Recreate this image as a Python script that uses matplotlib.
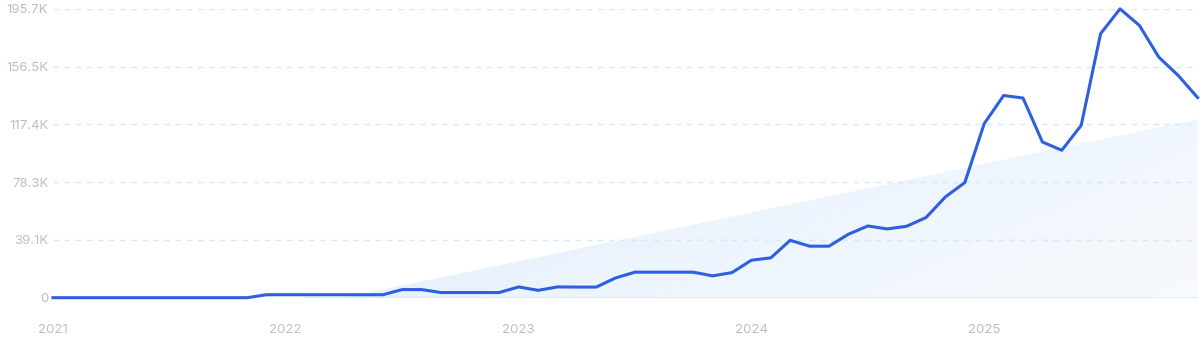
import numpy as np
import matplotlib
matplotlib.use('Agg')
import matplotlib.pyplot as plt
from matplotlib.patches import Polygon

# monthly search volume (thousands), Jan 2021 - Dec 2025
volume = [0, 0, 0, 0, 0, 0, 0, 0, 0, 0, 0,
          2.0, 2.0, 2.0, 2.0, 2.0, 2.0, 2.0,
          5.5, 5.5, 3.5, 3.5, 3.5, 3.5,
          7.3, 5.0, 7.3, 7.2, 7.2, 13.4,
          17.3, 17.3, 17.3, 17.3, 14.8, 17.0,
          25.4, 27.0, 38.9, 34.9, 34.9, 43.0,
          48.6, 46.6, 48.4, 54.3, 68.3, 78.0,
          117.9, 137.0, 135.3, 105.5, 99.9, 116.8,
          178.9, 195.7, 184.5, 163.0, 150.6, 135.6]
year_labels = ['2021', '2022', '2023', '2024', '2025']
y_ticks = [0, 39.1, 78.3, 117.4, 156.5, 195.7]
y_labels = ['0', '39.1K', '78.3K', '117.4K', '156.5K', '195.7K']
trend_start = 15      # month index where trend begins
trend_end_value = 121.0

plt.rcParams['font.family'] = ['Inter', 'DejaVu Sans']

fig = plt.figure(figsize=(12, 3.43), dpi=100)
ax = fig.add_axes([53 / 1200, 1 - 297.7 / 343, (1197.6 - 53) / 1200, (297.7 - 8.9) / 343])

months = np.arange(len(volume))
last = months[-1]
ax.set_xlim(0, last)
ax.set_ylim(0, 195.7)

# trend wedge with a soft gradient fill
tri = Polygon([[trend_start, 0], [last, trend_end_value], [last, 0]], closed=True,
              facecolor='none', edgecolor='none')
ax.add_patch(tri)
gx, gy = np.meshgrid(np.linspace(0, 1, 300), np.linspace(0, 1, 100))
strength = np.clip(1.0 - 0.65 * gx - 0.3 * (1 - gy), 0, 1)
rgba = np.zeros((100, 300, 4))
rgba[..., 0] = 0.86
rgba[..., 1] = 0.92
rgba[..., 2] = 0.985
rgba[..., 3] = 0.2 + 0.6 * strength
img = ax.imshow(rgba, extent=[trend_start, last, 0, trend_end_value], origin='lower',
                aspect='auto', interpolation='bilinear', zorder=1)
img.set_clip_path(tri)
ax.plot([trend_start - 2, last], [0, 0], color='#d6e8fb', lw=1.2, zorder=1.5)

# dashed gridlines
for t in y_ticks[1:]:
    ax.axhline(t, color='#d4e9fb', lw=1, ls=(0, (4, 4)), zorder=0)

ax.plot(months, volume, color='#2d5fdf', lw=2.2, solid_joinstyle='round',
        zorder=3, clip_on=False)

ax.set_yticks(y_ticks)
ax.set_yticklabels(y_labels)
ax.set_xticks([0, 12, 24, 36, 48])
ax.set_xticklabels(year_labels)
ax.tick_params(axis='both', length=0, colors='#bdbdc6', labelsize=9.5)
ax.tick_params(axis='y', pad=3.5)
ax.tick_params(axis='x', pad=19)
for s in ax.spines.values():
    s.set_visible(False)

fig.savefig('out.png', dpi=100)
